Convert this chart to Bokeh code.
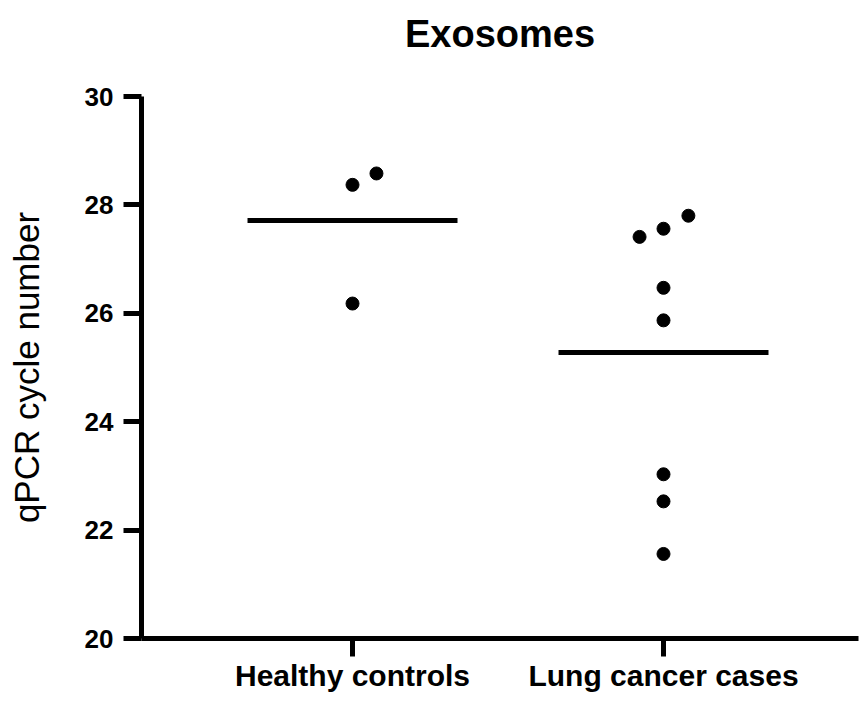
from bokeh.plotting import figure
from bokeh.models import Range1d, FixedTicker, Title
from bokeh.embed import file_html
from bokeh.resources import INLINE
import numpy as np

# ---- data ----
title_text = "Exosomes"
categories = ["Healthy controls", "Lung cancer cases"]
healthy_values = [28.37, 28.58, 26.18]
healthy_offsets = [0.0, 0.077, 0.0]      # beeswarm spread of overlapping dots
lung_values = [27.41, 27.56, 27.80, 26.47, 25.87, 23.03, 22.53, 21.56]
lung_offsets = [-0.077, 0.0, 0.08, 0.0, 0.0, 0.0, 0.0, 0.0]
y_ticks = [20, 22, 24, 26, 28, 30]

FONT = "Liberation Sans"

p = figure(width=859, height=694, output_backend="svg", toolbar_location=None,
           x_range=Range1d(0.3215, 2.627), y_range=Range1d(20, 30),
           min_border_left=141, min_border_right=1, min_border_top=96,
           min_border_bottom=50, title=None)

# spacer nearest the plot area, then the real title above it
p.add_layout(Title(text=" ", text_font=FONT, text_font_size="10px",
                   standoff=21), "above")
p.add_layout(Title(text=title_text, align="center",
                   text_font=FONT, text_font_size="38px", text_font_style="bold",
                   text_color="black", standoff=16, offset=8), "above")

groups = [(1, healthy_values, healthy_offsets), (2, lung_values, lung_offsets)]
for gx, vals, offs in groups:
    xs = [gx + o for o in offs]
    p.scatter(xs, vals, size=13, color="black", marker="circle")
    m = float(np.mean(vals))
    p.segment(x0=[gx - 0.3376], y0=[m], x1=[gx + 0.3376], y1=[m],
              line_color="black", line_width=5)

p.grid.visible = False
p.outline_line_color = None
p.background_fill_color = "white"
p.border_fill_color = "white"

for ax in (p.xaxis[0], p.yaxis[0]):
    ax.axis_line_width = 5
    ax.axis_line_color = "black"
    ax.major_tick_line_width = 5
    ax.major_tick_line_color = "black"
    ax.major_tick_out = 18
    ax.major_tick_in = 0
    ax.minor_tick_line_color = None
    ax.major_label_text_font = FONT
    ax.major_label_text_font_style = "bold"
    ax.major_label_text_color = "black"

p.yaxis.ticker = FixedTicker(ticks=y_ticks)
p.yaxis.major_label_text_font_size = "26px"
p.yaxis.major_label_standoff = 10
p.yaxis.axis_label = "qPCR cycle number"
p.yaxis.axis_label_text_font = FONT
p.yaxis.axis_label_text_font_size = "35px"
p.yaxis.axis_label_text_font_style = "normal"
p.yaxis.axis_label_text_color = "black"
p.yaxis.axis_label_standoff = 36

p.xaxis.ticker = FixedTicker(ticks=[1, 2])
p.xaxis.major_label_overrides = {1: categories[0], 2: categories[1]}
p.xaxis.major_label_text_font_size = "30px"
p.xaxis.major_label_standoff = 2

open("out.html", "w").write(file_html(p, INLINE))
